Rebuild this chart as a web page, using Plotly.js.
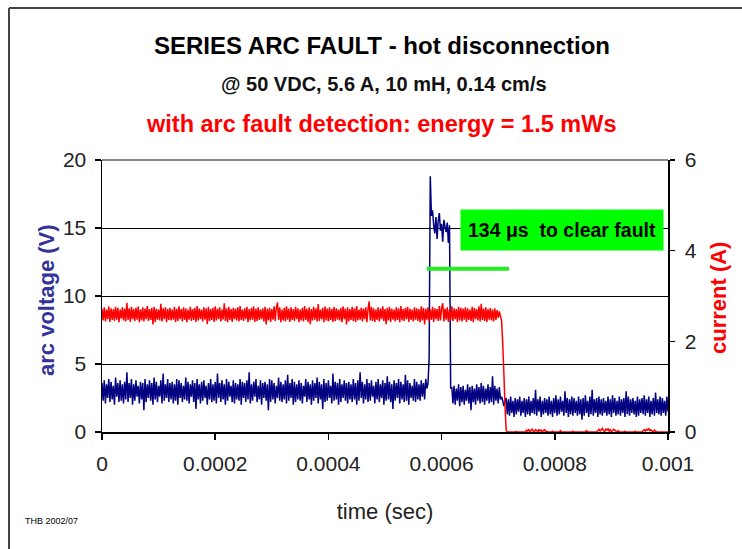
<!DOCTYPE html>
<html>
<head>
<meta charset="utf-8">
<script src="https://cdn.plot.ly/plotly-3.0.1.min.js"></script>
<style>
  html, body { margin: 0; padding: 0; background: #ffffff; }
  #chart { width: 742px; height: 549px; }
</style>
</head>
<body>
<div id="chart"></div>
<script>
const sampleInterval = 0.000002; // s

// arc voltage (V)
const voltageBeforeArc = [
  3.6,2.3,3.8,2.1,3.5,2.5,3.9,2.2,3.7,2.4,3.4,2.0,4.0,2.6,3.6,2.2,3.8,2.3,3.5,2.1,
  3.7,2.4,4.4,2.2,3.6,2.5,3.9,2.0,3.5,2.3,3.8,2.6,3.4,2.1,3.7,2.4,3.6,1.6,3.9,2.2,
  3.5,2.5,3.8,2.3,3.6,2.0,4.0,2.4,3.7,2.2,3.4,2.6,3.8,2.1,4.3,2.3,3.5,2.5,3.9,2.2,
  3.6,2.4,3.7,2.1,3.5,2.3,3.9,2.0,3.8,2.5,3.6,2.2,3.4,2.4,4.0,2.3,3.7,2.1,3.5,2.6,
  3.8,2.2,3.6,1.7,3.9,2.4,3.5,2.1,3.7,2.3,3.8,2.5,3.4,2.0,3.6,2.4,3.9,2.2,3.5,2.3,
  3.7,2.1,4.3,2.5,3.6,2.2,3.8,2.4,3.5,2.0,3.9,2.3,3.7,2.6,3.4,2.2,3.8,2.1,3.6,2.4,
  3.5,2.3,3.9,2.0,3.7,2.5,3.6,2.2,3.8,2.4,4.4,2.1,3.5,2.3,3.7,2.6,3.9,2.2,3.4,2.4,
  3.8,2.0,3.6,2.5,3.7,2.3,3.5,1.6,3.9,2.2,3.8,2.4,3.6,2.1,3.4,2.5,4.0,2.3,3.7,2.2,
  3.5,2.4,3.8,2.1,4.2,2.3,3.6,2.5,3.9,2.0,3.7,2.2,3.5,2.4,3.8,2.3,3.6,2.1,3.4,2.6,
  3.9,2.2,3.7,2.4,3.5,2.0,3.8,2.3,3.6,2.5,4.0,2.1,3.7,2.4,3.5,1.7,3.9,2.2,3.6,2.3,
  3.8,2.5,3.4,2.1,4.3,2.3,3.7,2.4,3.6,2.0,3.9,2.2,3.5,2.5,3.8,2.3,3.6,2.1,3.7,2.4,
  3.5,2.2,3.9,2.4,3.6,2.0,3.8,2.3,4.4,2.5,3.7,2.1,3.5,2.4,3.9,2.2,3.6,2.3,3.8,2.6,
  3.4,2.1,3.7,2.4,3.9,2.2,3.5,2.5,3.8,2.0,3.6,2.3,4.1,2.4,3.7,2.2,3.5,1.7,3.8,2.3,
  3.6,2.5,3.9,2.1,3.7,2.4,3.5,2.2,4.2,2.3,3.8,2.0,3.6,2.5,3.4,2.3,3.9,2.2,3.7,2.4,
  3.5,2.3,3.8,2.6,3.6,2.4,3.9,3.2,3.6
];
const voltageArcIgnition = [5.5, 18.8];
const voltageArcPlateau = [
  15.9,16.3,15.2,14.6,15.8,14.2,15.5,16.1,14.8,15.3,14.0,15.6,15.1,14.7,15.4,13.9
];
const voltageArcDrop = [15.2, 3.2];
const voltageBeforeClear = [
  3.3,2.1,3.4,2.0,3.2,2.3,3.5,1.9,3.3,2.2,3.4,2.0,3.1,2.3,3.5,2.1,3.3,1.6,3.4,2.2,
  3.2,2.0,3.5,2.3,3.3,2.1,3.6,2.2,3.4,2.0,3.2,2.3,3.5,2.1,3.3,2.2,4.1,2.0,3.4,2.3,
  3.2,2.1,3.3,2.4
];
const voltageClearing = [2.6, 2.3, 1.9, 2.2];
const voltageAfterClear = [
  2.5,1.3,2.4,1.2,2.6,1.4,2.3,1.1,2.5,1.3,2.4,1.5,2.6,1.2,2.3,1.4,2.5,1.1,2.4,1.3,
  2.6,1.2,2.3,1.4,2.5,1.3,3.1,1.2,2.4,1.5,2.6,1.1,2.3,1.3,2.5,1.4,2.4,1.2,2.6,1.3,
  2.3,1.1,2.5,1.4,2.7,1.2,2.4,1.3,2.6,1.5,2.3,1.2,3.0,1.4,2.5,1.1,2.4,1.3,2.6,1.2,
  2.5,1.4,2.3,1.2,2.6,1.3,2.4,0.9,2.5,1.2,2.7,1.4,2.3,1.1,2.6,1.3,3.1,1.2,2.4,1.4,
  2.5,1.1,2.6,1.3,2.4,1.2,2.5,1.4,2.3,1.2,2.6,1.3,2.4,1.1,2.7,1.4,2.5,1.2,2.3,1.3,
  2.6,1.2,2.4,1.4,2.5,1.1,3.0,1.3,2.6,1.2,2.4,1.4,2.5,1.3,2.3,1.1,2.6,1.2,2.4,1.4,
  2.5,1.3,2.7,1.2,2.4,1.4,2.6,1.1,2.3,1.3,2.5,1.2,2.9,1.4,2.4,1.3,2.6,1.2,2.5,1.4,
  2.3,1.2,2.6,1.5
];

// current (A)
const currentFlowing = [
  2.72,2.46,2.75,2.44,2.70,2.49,2.77,2.43,2.73,2.47,2.71,2.45,2.76,2.48,2.74,2.42,2.70,2.50,2.75,2.46,
  2.72,2.44,2.85,2.47,2.73,2.43,2.76,2.49,2.71,2.45,2.74,2.48,2.77,2.42,2.70,2.46,2.75,2.44,2.72,2.49,
  2.78,2.45,2.71,2.47,2.74,2.37,2.76,2.43,2.72,2.48,2.70,2.46,2.83,2.44,2.73,2.49,2.75,2.42,2.71,2.47,
  2.74,2.46,2.70,2.48,2.76,2.43,2.72,2.45,2.77,2.49,2.71,2.44,2.75,2.47,2.73,2.42,2.70,2.48,2.76,2.45,
  2.71,2.47,2.74,2.43,2.78,2.46,2.72,2.49,2.70,2.44,2.75,2.48,2.73,2.38,2.76,2.45,2.71,2.47,2.74,2.43,
  2.77,2.46,2.72,2.49,2.75,2.44,2.70,2.48,2.84,2.45,2.73,2.42,2.76,2.47,2.71,2.43,2.74,2.49,2.72,2.46,
  2.75,2.44,2.78,2.47,2.70,2.45,2.73,2.49,2.76,2.42,2.71,2.46,2.74,2.48,2.77,2.43,2.72,2.45,2.75,2.47,
  2.70,2.49,2.73,2.44,2.76,2.37,2.72,2.46,2.74,2.43,2.71,2.48,2.77,2.45,2.73,2.86,2.47,2.75,2.42,2.70,
  2.46,2.74,2.44,2.77,2.48,2.72,2.43,2.75,2.47,2.71,2.45,2.76,2.49,2.73,2.42,2.70,2.46,2.74,2.44,2.78,
  2.47,2.72,2.43,2.75,2.38,2.71,2.46,2.76,2.48,2.73,2.44,2.82,2.45,2.70,2.49,2.74,2.42,2.77,2.46,2.72,
  2.44,2.75,2.47,2.71,2.43,2.76,2.45,2.73,2.48,2.70,2.46,2.74,2.42,2.77,2.49,2.72,2.37,2.75,2.44,2.71,
  2.47,2.76,2.45,2.73,2.43,2.78,2.46,2.70,2.48,2.74,2.44,2.72,2.49,2.75,2.42,2.71,2.88,2.46,2.76,2.45,
  2.73,2.43,2.70,2.47,2.75,2.44,2.72,2.49,2.77,2.45,2.71,2.38,2.74,2.46,2.76,2.43,2.72,2.48,2.70,2.44,
  2.75,2.47,2.73,2.42,2.78,2.46,2.71,2.45,2.74,2.49,2.76,2.43,2.72,2.47,2.70,2.44,2.75,2.48,2.73,2.45,
  2.71,2.42,2.77,2.46,2.74,2.37,2.72,2.48,2.75,2.44,2.70,2.47,2.76,2.43,2.73,2.49,2.71,2.45,2.78,2.46,
  2.74,2.84,2.44,2.72,2.48,2.75,2.43,2.70,2.47,2.77,2.45,2.73,2.49,2.71,2.42,2.76,2.46,2.74,2.44,2.72,
  2.48,2.75,2.43,2.73,2.47,2.70,2.45,2.76,2.42,2.74,2.49,2.71,2.46,2.77,2.44,2.83,2.47,2.72,2.45,2.75,
  2.43,2.71,2.48,2.74,2.46,2.70,2.44,2.73,2.47,2.69,2.52,2.66,2.55
];
const currentInterrupting = [2.45, 1.95, 1.30, 0.60, 0.05];
const currentInterrupted = [
  0,0,0,0,0,0,0,0,0.01,0,0,0,0,0,0,0,0,
  0.04,0.02,0.06,0,0.03,0.07,0.02,0,0.05,0.03,0,0.06,0.02,0.04,0,0.03,0.05,0,0.02,0,
  0,0,0,0.02,0,0,0,0,0,0,0.03,0,0,0,0,0,0,0,0,0,0,0.02,0,0,0,0,0,0,0,0,0,0,0,0.03,0,0,0,0,0,0,0,0,0,
  0.03,0.06,0.02,0.05,0.08,0.03,0,0.06,0.04,0.07,0.02,0.05,0,0.03,0.06,0.04,0.02,0,0.03,0,
  0,0,0,0,0.02,0,0,0,0,0,0,0,0,0.02,0,0,0,0,0,0,
  0.03,0.05,0.02,0.06,0.04,0.07,0.03,0.05,0.02,0,0.04,0.02,0,
  0,0,0,0,0,0,0,0,0,0
];

// axis ticks
const timeTickValues = [0, 0.0002, 0.0004, 0.0006, 0.0008, 0.001];
const timeTickLabels = ['0', '0.0002', '0.0004', '0.0006', '0.0008', '0.001'];
const voltageTicks = [0, 5, 10, 15, 20];
const currentTicks = [0, 2, 4, 6];

// annotation of the clearing time
const clearingBarStart = 0.000574;
const clearingBarEnd = 0.000719;
const clearingBarLevel = 12;  // V
const clearingLabel = '134 \u03bcs  to clear fault';

// ---- build ----
const arcVoltage = [].concat(voltageBeforeArc, voltageArcIgnition, voltageArcPlateau,
  voltageArcDrop, voltageBeforeClear, voltageClearing, voltageAfterClear);
const current = [].concat(currentFlowing, currentInterrupting, currentInterrupted);
const tV = arcVoltage.map((_, i) => i * sampleInterval);
const tI = current.map((_, i) => i * sampleInterval);

const sans = "'Liberation Sans', Arial, sans-serif";

const traces = [
  { x: tV, y: arcVoltage, type: 'scatter', mode: 'lines', name: 'arc voltage',
    line: { color: '#000080', width: 1.5, simplify: false }, yaxis: 'y' },
  { x: tI, y: current, type: 'scatter', mode: 'lines', name: 'current',
    line: { color: '#ff0000', width: 1.5, simplify: false }, yaxis: 'y2' }
];

const W = 742, H = 549, L = 102, R = 74, T = 160, B = 117;
const pw = W - L - R, ph = H - T - B;
const px = x => (x - L) / pw;          // pixel -> paper x
const py = y => (H - B - y) / ph;      // pixel -> paper y

const layout = {
  width: W, height: H,
  margin: { l: L, r: R, t: T, b: B },
  paper_bgcolor: '#ffffff', plot_bgcolor: '#ffffff',
  showlegend: false,
  title: {
    text: 'SERIES ARC FAULT - hot disconnection',
    font: { family: sans, size: 24, color: '#000000', weight: 'bold' },
    x: 382 / W, xanchor: 'center', y: 1 - 46 / H, yanchor: 'middle'
  },
  xaxis: {
    range: [0, 0.001], tickmode: 'array', tickvals: timeTickValues, ticktext: timeTickLabels,
    showgrid: false, zeroline: false, showline: true, linecolor: '#000000', linewidth: 1.5,
    ticks: 'outside', ticklen: 6, tickwidth: 1.5, tickcolor: '#000000',
    tickfont: { family: sans, size: 21, color: '#222222' },
    ticklabelstandoff: 6,
    title: { text: 'time (sec)', font: { family: sans, size: 22, color: '#222222' }, standoff: 30 },
    layer: 'below traces'
  },
  yaxis: {
    range: [0, 20], tickmode: 'array', tickvals: voltageTicks,
    showgrid: true, gridcolor: '#000000', gridwidth: 1,
    zeroline: false, showline: true, linecolor: '#000000', linewidth: 1.5,
    ticks: 'outside', ticklen: 6, tickwidth: 1.5, tickcolor: '#000000',
    tickfont: { family: sans, size: 21, color: '#222222' },
    ticklabelstandoff: 4,
    layer: 'below traces'
  },
  yaxis2: {
    range: [0, 6], tickmode: 'array', tickvals: currentTicks, overlaying: 'y', side: 'right',
    showgrid: false, zeroline: false, showline: true, linecolor: '#000000', linewidth: 1.5,
    ticks: 'outside', ticklen: 5, tickwidth: 1.5, tickcolor: '#000000',
    tickfont: { family: sans, size: 21, color: '#222222' },
    ticklabelstandoff: 6,
    layer: 'below traces'
  },
  shapes: [
    // top border of plot area
    { type: 'line', xref: 'paper', yref: 'paper', x0: 0, x1: 1, y0: 1, y1: 1,
      line: { color: '#888888', width: 2 } },
    // outer frame (left and top edges)
    { type: 'line', xref: 'paper', yref: 'paper', x0: px(9), x1: px(9), y0: py(8), y1: py(560),
      line: { color: '#444444', width: 2 } },
    { type: 'line', xref: 'paper', yref: 'paper', x0: px(9), x1: px(760), y0: py(8), y1: py(8),
      line: { color: '#444444', width: 2 } },
    // green bar marking the clearing time
    { type: 'line', xref: 'x', yref: 'y', x0: clearingBarStart, x1: clearingBarEnd,
      y0: clearingBarLevel, y1: clearingBarLevel, line: { color: '#22ee22', width: 4 } }
  ],
  annotations: [
    { xref: 'paper', yref: 'paper', x: px(384), y: py(84), xanchor: 'center', yanchor: 'middle',
      text: '@ 50 VDC, 5.6 A, 10 mH, 0.14 cm/s', showarrow: false,
      font: { family: sans, size: 20, color: '#111111', weight: 'bold' } },
    { xref: 'paper', yref: 'paper', x: px(381), y: py(124), xanchor: 'center', yanchor: 'middle',
      text: 'with arc fault detection: energy = 1.5 mWs', showarrow: false,
      font: { family: sans, size: 23.5, color: '#ff0000', weight: 'bold' } },
    // axis titles
    { xref: 'paper', yref: 'paper', x: px(46), y: py(300), xanchor: 'center', yanchor: 'middle',
      text: 'arc voltage (V)', textangle: -90, showarrow: false,
      font: { family: sans, size: 22, color: '#333399', weight: 'bold' } },
    { xref: 'paper', yref: 'paper', x: px(718), y: py(298), xanchor: 'center', yanchor: 'middle',
      text: 'current (A)', textangle: -90, showarrow: false,
      font: { family: sans, size: 22, color: '#ff0000', weight: 'bold' } },
    { xref: 'paper', yref: 'paper', x: px(562), y: py(230), xanchor: 'center', yanchor: 'middle',
      text: clearingLabel, showarrow: false, bgcolor: '#00ff00', width: 202, height: 40,
      borderpad: 0, font: { family: sans, size: 19.5, color: '#000000', weight: 'bold' } },
    { xref: 'paper', yref: 'paper', x: px(51), y: py(521), xanchor: 'center', yanchor: 'middle',
      text: 'THB 2002/07', showarrow: false,
      font: { family: sans, size: 9, color: '#000000' } }
  ]
};

Plotly.newPlot('chart', traces, layout, { displayModeBar: false, staticPlot: true });
</script>
</body>
</html>
